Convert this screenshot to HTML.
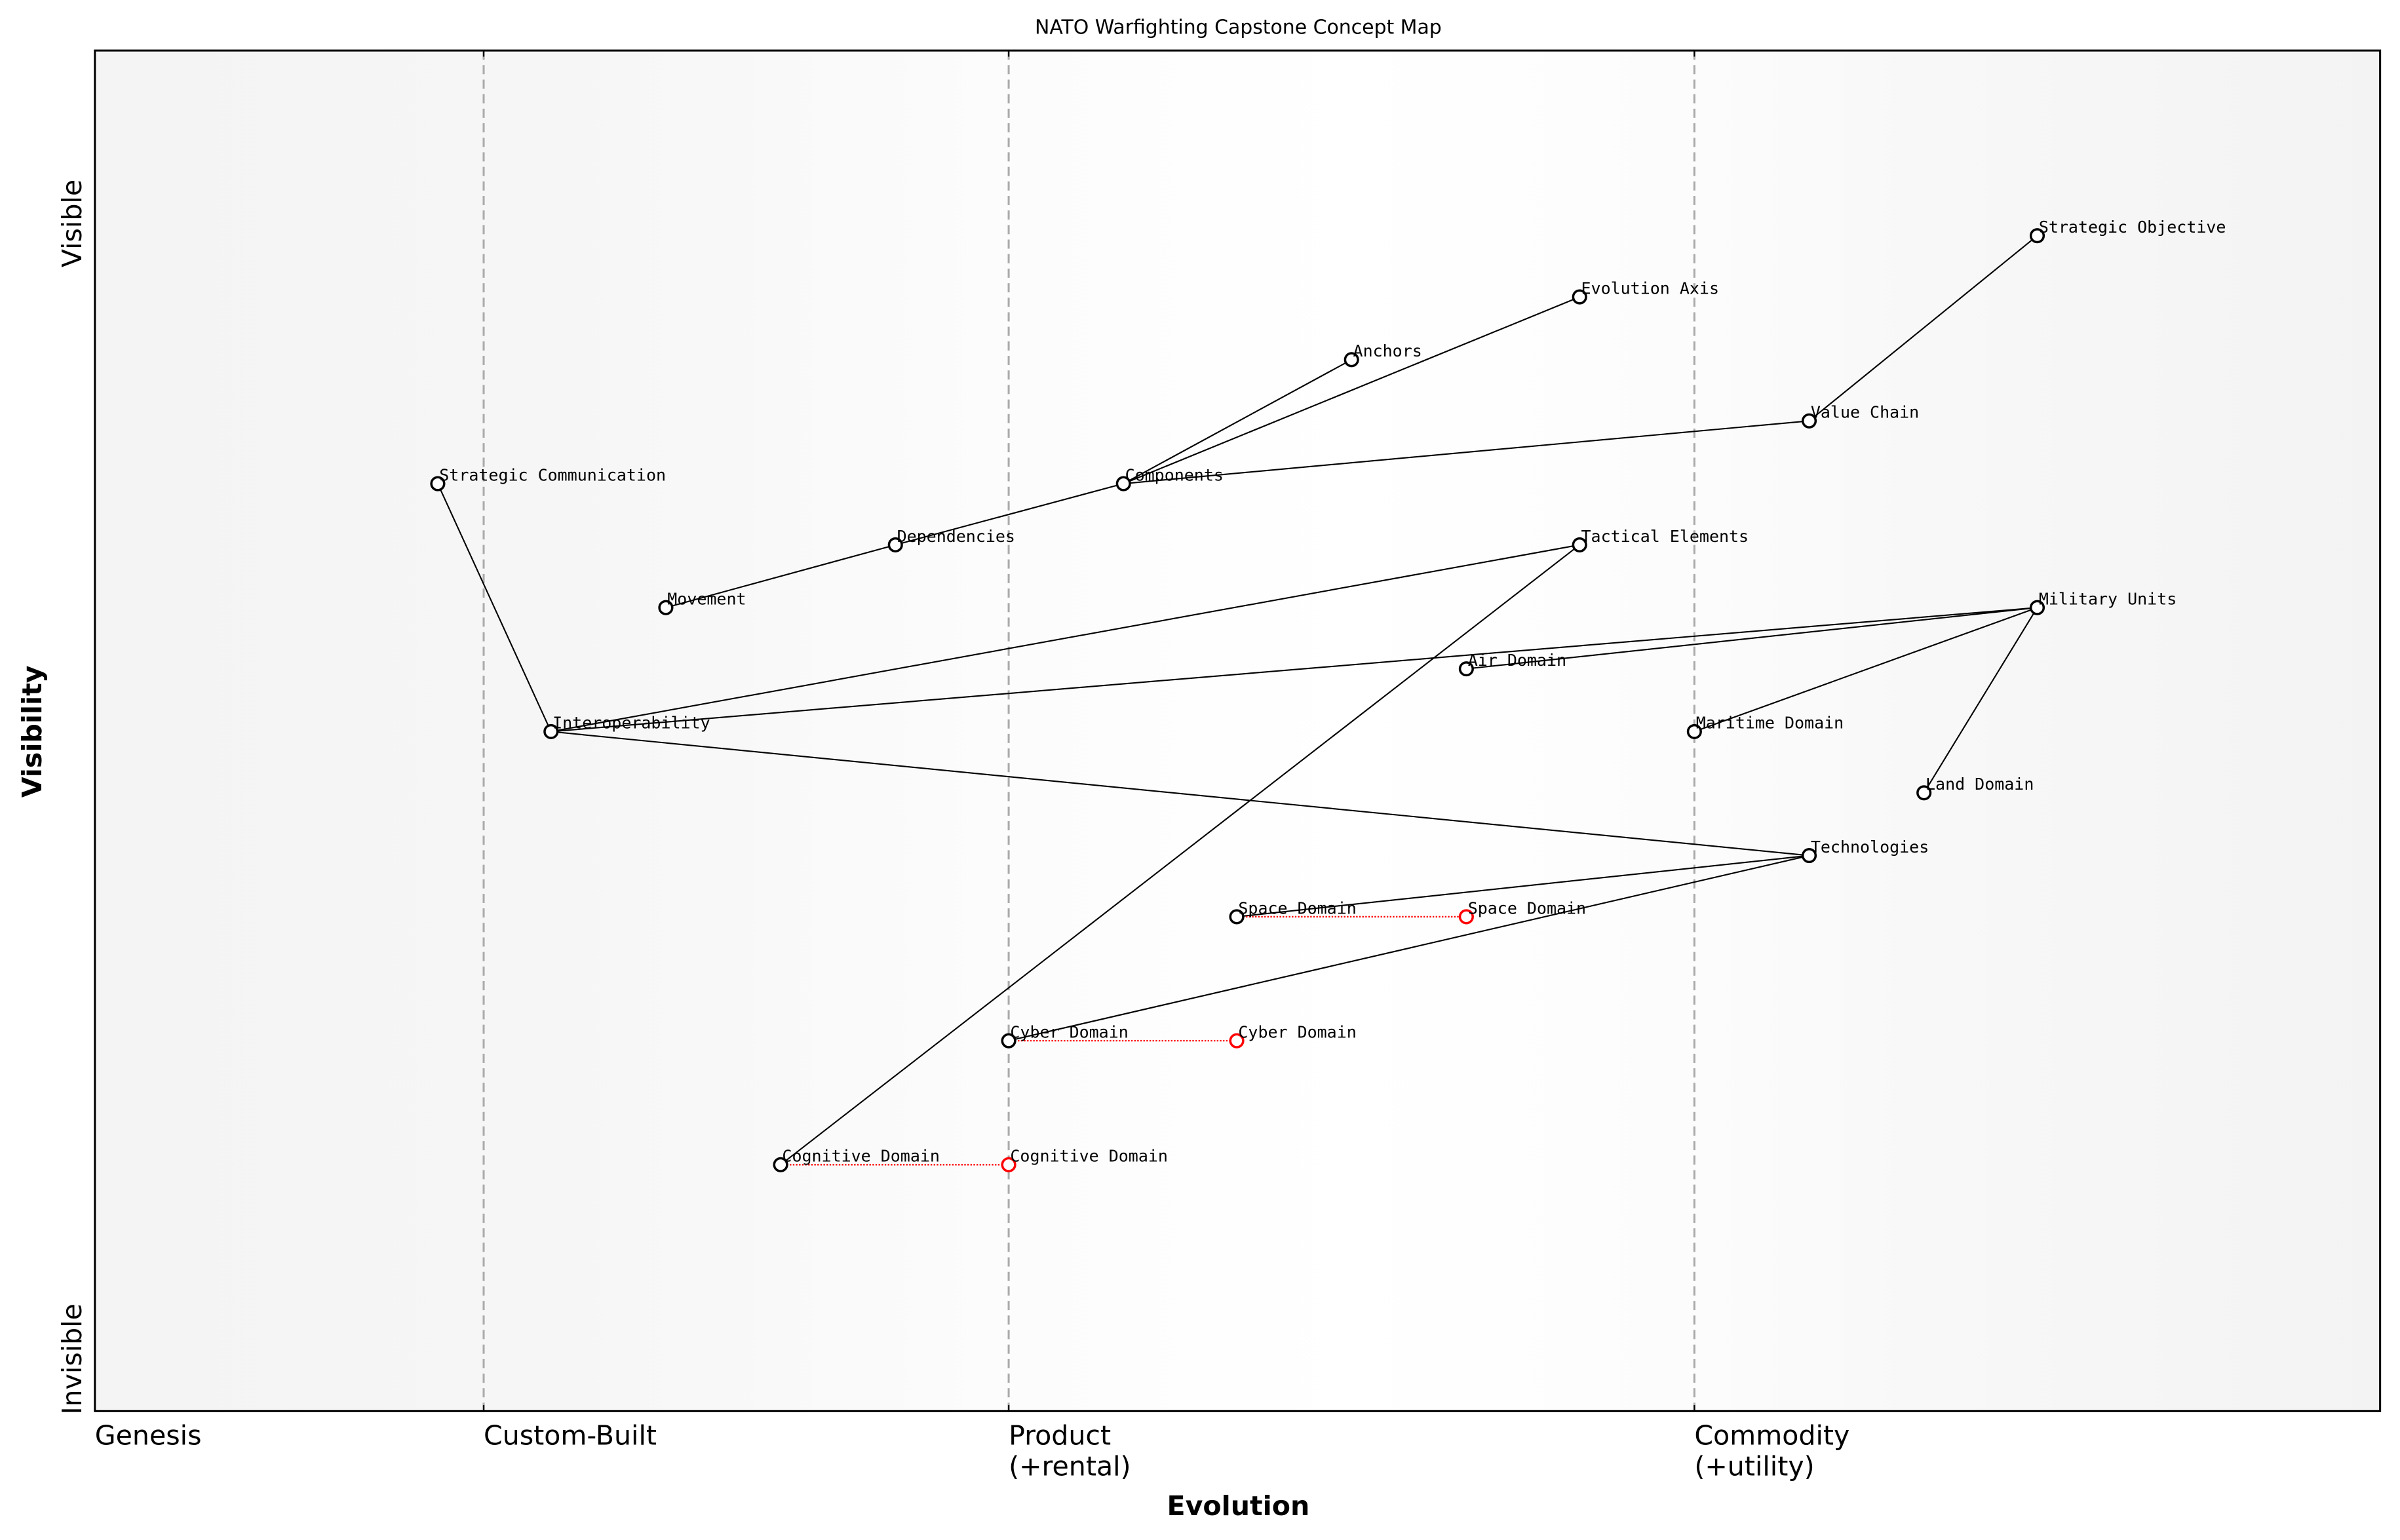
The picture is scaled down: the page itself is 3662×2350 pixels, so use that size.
<!DOCTYPE html>
<html><head><meta charset="utf-8"><style>html,body{margin:0;padding:0;background:#fff}svg{display:block}</style></head>
<body>
<svg width="3662" height="2350" viewBox="0 0 1568 1006.2" xmlns="http://www.w3.org/2000/svg">
<defs>
<linearGradient id="bg" x1="0" x2="1" y1="0" y2="0">
<stop offset="0" stop-color="#f4f4f4"/>
<stop offset="0.2" stop-color="#f6f6f6"/>
<stop offset="0.4" stop-color="#fcfcfc"/>
<stop offset="0.55" stop-color="#ffffff"/>
<stop offset="0.7" stop-color="#fcfcfc"/>
<stop offset="0.8" stop-color="#f8f8f8"/>
<stop offset="1" stop-color="#f3f3f3"/>
</linearGradient>
</defs>
<rect x="62" y="33" width="1493" height="889" fill="url(#bg)"/>
<g stroke="#aaa" stroke-width="1.3" stroke-dasharray="6,3.5">
<line x1="316" y1="33" x2="316" y2="922"/>
<line x1="659" y1="33" x2="659" y2="922"/>
<line x1="1107" y1="33" x2="1107" y2="922"/>
</g>
<g stroke="#000" stroke-width="1">
<line x1="316" y1="922" x2="316" y2="918"/><line x1="659" y1="922" x2="659" y2="918"/><line x1="1107" y1="922" x2="1107" y2="918"/>
<line x1="316" y1="33" x2="316" y2="37"/><line x1="659" y1="33" x2="659" y2="37"/><line x1="1107" y1="33" x2="1107" y2="37"/>
</g>
<g stroke="#000" stroke-width="0.9" fill="none">
<line x1="1331" y1="154" x2="1182" y2="275"/>
<line x1="1182" y1="275" x2="734" y2="316"/>
<line x1="734" y1="316" x2="883" y2="235"/>
<line x1="734" y1="316" x2="1032" y2="194"/>
<line x1="734" y1="316" x2="585" y2="356"/>
<line x1="585" y1="356" x2="435" y2="397"/>
<line x1="286" y1="316" x2="360" y2="478"/>
<line x1="360" y1="478" x2="1032" y2="356"/>
<line x1="360" y1="478" x2="1331" y2="397"/>
<line x1="360" y1="478" x2="1182" y2="559"/>
<line x1="1331" y1="397" x2="958" y2="437"/>
<line x1="1331" y1="397" x2="1107" y2="478"/>
<line x1="1331" y1="397" x2="1257" y2="518"/>
<line x1="1032" y1="356" x2="510" y2="761"/>
<line x1="1182" y1="559" x2="808" y2="599"/>
<line x1="1182" y1="559" x2="659" y2="680"/>
</g>
<g stroke="red" stroke-width="1" stroke-dasharray="1,1">
<line x1="808" y1="599" x2="958" y2="599"/>
<line x1="659" y1="680" x2="808" y2="680"/>
<line x1="510" y1="761" x2="659" y2="761"/>
</g>
<g fill="#fff" stroke="#000" stroke-width="1.5">
<circle cx="1331" cy="154" r="4.2"/><circle cx="1032" cy="194" r="4.2"/><circle cx="883" cy="235" r="4.2"/>
<circle cx="1182" cy="275" r="4.2"/><circle cx="734" cy="316" r="4.2"/><circle cx="286" cy="316" r="4.2"/>
<circle cx="585" cy="356" r="4.2"/><circle cx="1032" cy="356" r="4.2"/><circle cx="435" cy="397" r="4.2"/>
<circle cx="1331" cy="397" r="4.2"/><circle cx="958" cy="437" r="4.2"/><circle cx="360" cy="478" r="4.2"/>
<circle cx="1107" cy="478" r="4.2"/><circle cx="1257" cy="518" r="4.2"/><circle cx="1182" cy="559" r="4.2"/>
<circle cx="808" cy="599" r="4.2"/><circle cx="659" cy="680" r="4.2"/><circle cx="510" cy="761" r="4.2"/>
</g>
<g fill="#fff" stroke="red" stroke-width="1.5">
<circle cx="958" cy="599" r="4.2"/><circle cx="808" cy="680" r="4.2"/><circle cx="659" cy="761" r="4.2"/>
</g>
<g font-family="'DejaVu Sans Mono','Liberation Mono',monospace" font-size="10.7" fill="#000">
<text x="1332" y="152">Strategic Objective</text>
<text x="1033" y="192">Evolution Axis</text>
<text x="884" y="233">Anchors</text>
<text x="1183" y="273">Value Chain</text>
<text x="735" y="314">Components</text>
<text x="287" y="314">Strategic Communication</text>
<text x="586" y="354">Dependencies</text>
<text x="1033" y="354">Tactical Elements</text>
<text x="436" y="395">Movement</text>
<text x="1332" y="395">Military Units</text>
<text x="959" y="435">Air Domain</text>
<text x="361" y="476">Interoperability</text>
<text x="1108" y="476">Maritime Domain</text>
<text x="1258" y="516">Land Domain</text>
<text x="1183" y="557">Technologies</text>
<text x="809" y="597">Space Domain</text>
<text x="959" y="597">Space Domain</text>
<text x="660" y="678">Cyber Domain</text>
<text x="809" y="678">Cyber Domain</text>
<text x="511" y="759">Cognitive Domain</text>
<text x="660" y="759">Cognitive Domain</text>
</g>
<rect x="62" y="33" width="1493" height="889" fill="none" stroke="#000" stroke-width="1.3"/>
<g font-family="'DejaVu Sans','Liberation Sans',sans-serif" fill="#000">
<text x="809" y="22" font-size="12.8" text-anchor="middle">NATO Warfighting Capstone Concept Map</text>
<g font-size="17.6">
<text x="62" y="944">Genesis</text>
<text x="316" y="944">Custom-Built</text>
<text x="659" y="944">Product</text>
<text x="659" y="964">(+rental)</text>
<text x="1107" y="944">Commodity</text>
<text x="1107" y="964">(+utility)</text>
<text transform="translate(53,146) rotate(-90)" text-anchor="middle">Visible</text>
<text transform="translate(53,888) rotate(-90)" text-anchor="middle">Invisible</text>
</g>
<text x="809" y="990" font-size="17.6" font-weight="bold" text-anchor="middle">Evolution</text>
<text transform="translate(27,478) rotate(-90)" font-size="17.6" font-weight="bold" text-anchor="middle">Visibility</text>
</g>
</svg>
</body></html>
